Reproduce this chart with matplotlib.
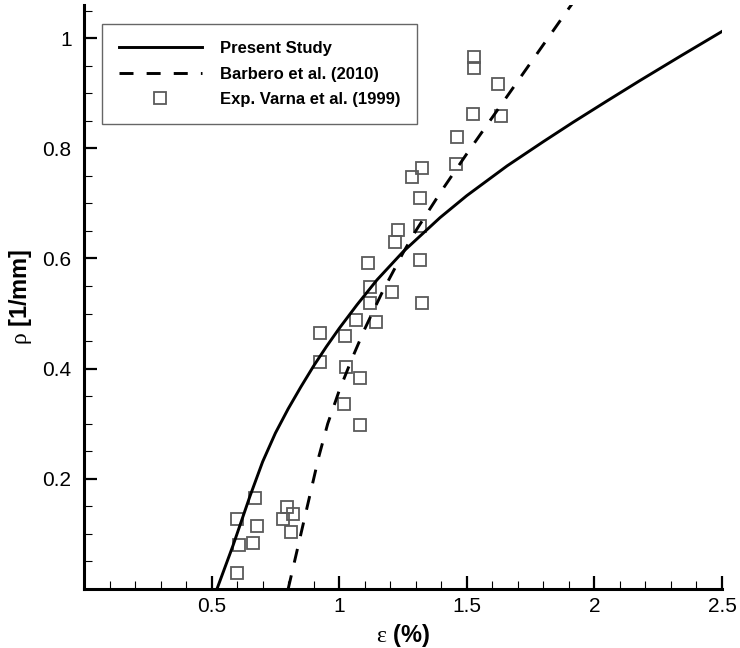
import numpy as np
import matplotlib
matplotlib.use('Agg')
from matplotlib import pyplot as plt
from matplotlib.ticker import MultipleLocator

plt.rcParams['font.family'] = ['Liberation Sans', 'DejaVu Sans']
plt.rcParams['mathtext.fontset'] = 'custom'
plt.rcParams['mathtext.rm'] = 'Liberation Serif'

# Present study (solid line)
present_x = [0.521, 0.584, 0.650, 0.700, 0.750, 0.800, 0.850, 0.900, 0.950, 1.000, 1.070,
             1.148, 1.250, 1.395, 1.500, 1.658, 1.800, 1.916, 2.050, 2.179, 2.340, 2.500]
present_y = [0.000, 0.079, 0.168, 0.231, 0.283, 0.327, 0.367, 0.405, 0.440, 0.473, 0.516,
             0.561, 0.612, 0.674, 0.714, 0.768, 0.812, 0.847, 0.886, 0.923, 0.968, 1.012]

# Barbero et al. (2010) (dashed line)
barbero_x = [0.800, 0.830, 0.860, 0.890, 0.920, 0.955, 1.000, 1.050, 1.100, 1.170,
             1.250, 1.300, 1.400, 1.500, 1.600, 1.700, 1.800, 1.900, 1.925]
barbero_y = [0.000, 0.060, 0.120, 0.180, 0.240, 0.300, 0.360, 0.418, 0.472, 0.540,
             0.610, 0.650, 0.722, 0.790, 0.856, 0.922, 0.988, 1.054, 1.070]

# Exp. Varna et al. (1999)
exp_x = [1.528, 1.528, 1.622, 1.525, 1.634, 1.461, 1.458, 1.324, 1.285, 1.317,
         1.317, 1.230, 1.219, 1.317, 1.113, 1.121, 1.207, 1.121, 1.324, 1.066,
         1.144, 0.925, 1.023, 0.925, 1.027, 1.081, 1.019, 1.081, 0.670, 0.599,
         0.678, 0.795, 0.819, 0.780, 0.811, 0.607, 0.662, 0.599]
exp_y = [0.965, 0.945, 0.917, 0.863, 0.858, 0.820, 0.771, 0.765, 0.747, 0.709,
         0.658, 0.651, 0.629, 0.597, 0.591, 0.549, 0.539, 0.519, 0.519, 0.488,
         0.484, 0.464, 0.459, 0.412, 0.403, 0.383, 0.335, 0.297, 0.165, 0.127,
         0.114, 0.149, 0.136, 0.127, 0.103, 0.080, 0.084, 0.029]

x_ticks = [0.5, 1.0, 1.5, 2.0, 2.5]
x_labels = ['0.5', '1', '1.5', '2', '2.5']
y_ticks = [0.2, 0.4, 0.6, 0.8, 1.0]
y_labels = ['0.2', '0.4', '0.6', '0.8', '1']

fig = plt.figure(figsize=(7.4, 6.48), dpi=100)
ax = fig.add_axes([84/740, 59/648, (722-84)/740, (589-5)/648])

ax.plot(present_x, present_y, color='black', lw=2.1, label='Present Study', zorder=3)
ax.plot(barbero_x, barbero_y, color='black', lw=2.1, dashes=[4.8, 4.5],
        label='Barbero et al. (2010)', zorder=3)
ax.plot(exp_x, exp_y, ls='none', marker='s', ms=9, mfc='none', mec='#5a5a5a',
        mew=1.3, label='Exp. Varna et al. (1999)', zorder=2)

ax.set_xlim(0, 2.5)
ax.set_ylim(0, 1.06)
ax.set_xticks(x_ticks)
ax.set_xticklabels(x_labels)
ax.set_yticks(y_ticks)
ax.set_yticklabels(y_labels)
ax.xaxis.set_minor_locator(MultipleLocator(0.1))
ax.yaxis.set_minor_locator(MultipleLocator(0.05))

for s in ['top', 'right']:
    ax.spines[s].set_visible(False)
for s in ['left', 'bottom']:
    ax.spines[s].set_linewidth(2.2)
ax.tick_params(which='major', direction='in', length=9.5, width=1.6, labelsize=15, pad=7)
ax.tick_params(which='minor', direction='in', length=5.5, width=0.8)
ax.tick_params(axis='y', which='major', pad=9)
ax.tick_params(axis='x', which='major', pad=6)
ax.tick_params(top=False, right=False, which='both')

ax.set_xlabel(r'$\mathrm{\varepsilon}$ (%)', fontsize=17, fontweight='bold', labelpad=4)
ax.set_ylabel(r'$\mathrm{\rho}$ [1/mm]', fontsize=17, fontweight='bold', labelpad=6)

leg = ax.legend(loc='upper left', bbox_to_anchor=(102/740, 1 - 24/648),
                bbox_transform=fig.transFigure, borderaxespad=0, fancybox=False,
                prop={'weight': 'bold', 'size': 12}, handlelength=5.0,
                handletextpad=1.05, labelspacing=0.65, borderpad=1.0,
                numpoints=1, framealpha=1)
leg.get_frame().set_edgecolor('#666666')
leg.get_frame().set_linewidth(1.0)

fig.savefig('out.png', dpi=100)
